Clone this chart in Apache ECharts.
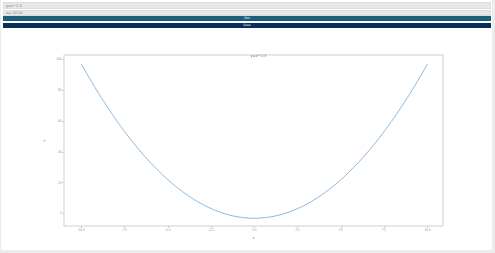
<!DOCTYPE html>
<html>
<head>
<meta charset="utf-8">
<script src="https://cdn.jsdelivr.net/npm/echarts@6/dist/echarts.min.js"></script>
<style>
  html, body { margin: 0; padding: 0; width: 495px; height: 253px; overflow: hidden; background: #ececec; font-family: "DejaVu Sans", sans-serif; }
  #panel { position: absolute; left: 1px; top: 0px; width: 491px; height: 250px; background: #ffffff; }
  .box { position: absolute; left: 2px; width: 488px; background: #e7e7e6; border: 1px solid #dcdcdc; box-sizing: border-box; color: #777; font-size: 3.5px; line-height: 5px; padding-left: 2px; }
  .btn { position: absolute; left: 2px; width: 488px; color: #fff; font-size: 3px; text-align: center; box-sizing: border-box; }
  #chart { position: absolute; left: 0; top: 0; width: 495px; height: 253px; }
</style>
</head>
<body>
<div id="panel">
  <div class="box" style="top:2px;height:7px;line-height:6px;">y=x^2-3</div>
  <div class="box" style="top:10px;height:6px;">x=-10:10</div>
  <div class="btn" style="top:16px;height:5px;line-height:5px;background:#1b5f7d;">Plot</div>
  <div class="btn" style="top:23px;height:5px;line-height:5px;background:#0b2d5b;">Save</div>
</div>
<div id="chart"></div>
<script>
const titleText = "y=x^2-3";
const xName = "x";
const yName = "y";
const xValues = [-10, -9.5, -9, -8.5, -8, -7.5, -7, -6.5, -6, -5.5, -5, -4.5, -4, -3.5, -3, -2.5, -2, -1.5, -1, -0.5, 0,
                 0.5, 1, 1.5, 2, 2.5, 3, 3.5, 4, 4.5, 5, 5.5, 6, 6.5, 7, 7.5, 8, 8.5, 9, 9.5, 10];
const yValues = [97, 87.25, 78, 69.25, 61, 53.25, 46, 39.25, 33, 27.25, 22, 17.25, 13, 9.25, 6, 3.25, 1, -0.75, -2, -2.75, -3,
                 -2.75, -2, -0.75, 1, 3.25, 6, 9.25, 13, 17.25, 22, 27.25, 33, 39.25, 46, 53.25, 61, 69.25, 78, 87.25, 97];
const xTicks = [-10, -7.5, -5, -2.5, 0, 2.5, 5, 7.5, 10];
const xTickLabels = ["-10.0", "-7.5", "-5.0", "-2.5", "0.0", "2.5", "5.0", "7.5", "10.0"];
const yTicks = [0, 20, 40, 60, 80, 100];

const chart = echarts.init(document.getElementById('chart'), null, { renderer: 'canvas' });
const lblMap = {};
xTicks.forEach((t, i) => { lblMap[t] = xTickLabels[i]; });

chart.setOption({
  animation: false,
  backgroundColor: 'transparent',
  title: {
    text: titleText,
    left: 253.5, top: 49.5, textAlign: 'center',
    textStyle: { fontSize: 3.5, fontWeight: 'normal', color: '#777', fontFamily: 'DejaVu Sans' }
  },
  grid: {
    left: 64, top: 55, right: 52, bottom: 27,
    show: true, borderColor: '#cfcfcf', borderWidth: 1, backgroundColor: 'transparent'
  },
  xAxis: {
    type: 'value', min: -11, max: 10.9,
    name: xName, nameLocation: 'middle', nameGap: 6,
    nameTextStyle: { fontSize: 3.5, color: '#777' },
    axisLine: { show: false, onZero: false },
    splitLine: { show: false },
    axisTick: { show: true, length: 2, lineStyle: { color: '#bbb', width: 0.6 }, customValues: xTicks },
    axisLabel: { fontSize: 3, color: '#999', margin: 2.5, customValues: xTicks, formatter: v => lblMap[v] !== undefined ? lblMap[v] : '' }
  },
  yAxis: {
    type: 'value', min: -8.05, max: 102.8,
    name: yName, nameLocation: 'middle', nameGap: 9, nameRotate: 90,
    nameTextStyle: { fontSize: 3.5, color: '#777' },
    axisLine: { show: false, onZero: false },
    splitLine: { show: false },
    axisTick: { show: true, length: 2, lineStyle: { color: '#bbb', width: 0.6 }, customValues: yTicks },
    axisLabel: { fontSize: 3, color: '#999', margin: 2.5, customValues: yTicks, formatter: v => String(v) }
  },
  series: [{
    type: 'line',
    data: xValues.map((x, i) => [x, yValues[i]]),
    smooth: true,
    showSymbol: false,
    lineStyle: { color: '#79b0dc', width: 0.9 }
  }]
});
</script>
</body>
</html>
